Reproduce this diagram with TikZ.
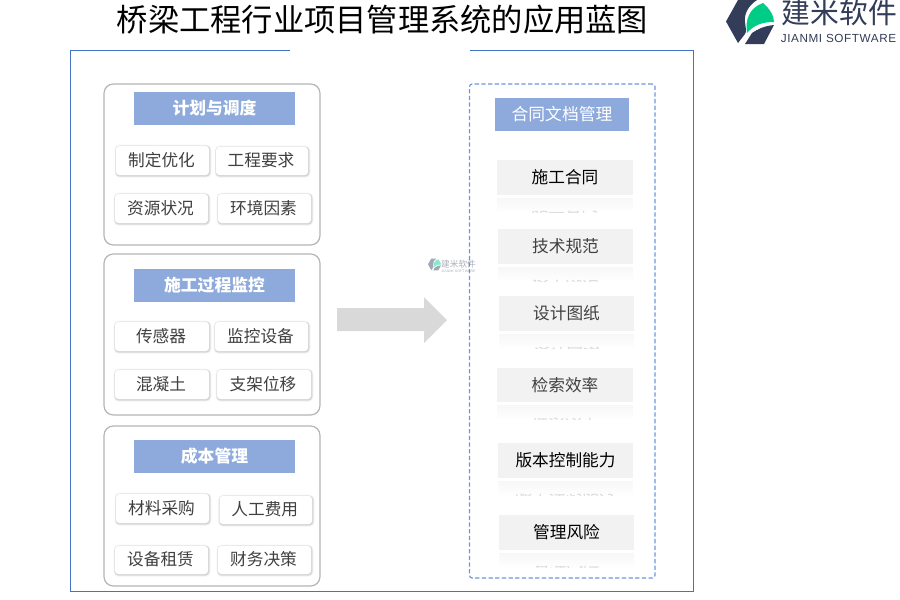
\documentclass[tikz,border=0pt]{standalone}
\usepackage{fontspec}
\setmainfont{Noto Sans CJK SC}
\newfontfamily\latinfont[LetterSpace=5]{Liberation Sans}
\usetikzlibrary{fadings}
\definecolor{frameblue}{HTML}{4472C4}
\definecolor{headblue}{HTML}{8EA9DB}
\definecolor{dashblue}{HTML}{7096E0}
\definecolor{groupgray}{HTML}{B5B5B5}
\definecolor{itemgray}{HTML}{F2F2F2}
\definecolor{inktext}{HTML}{404040}
\definecolor{logodark}{HTML}{333D5A}
\definecolor{logogreen}{HTML}{00CC88}
\definecolor{arrowgray}{HTML}{D9D9D9}
\tikzfading[name=fadedown,top color=transparent!0,bottom color=transparent!100]
\tikzset{
  x=0.75pt,y=-0.75pt,
  groupbox/.style={draw=groupgray,line width=0.9pt,rounded corners=7pt,fill=white},
  headbox/.style={fill=headblue,text=white,font=\fontsize{12.6}{14}\selectfont\bfseries,inner sep=0pt},
  chipbox/.style={fill=white,rounded corners=2.5pt,text=inktext,font=\fontsize{12.5}{14}\selectfont,inner sep=0pt},
  itembox/.style={fill=itemgray,font=\fontsize{12.5}{14}\selectfont,inner sep=0pt},
}
\newcommand{\logomark}{%
  \fill[logodark] (726,21.5) -- (738,0) -- (757,0) .. controls (748,6) and (744,14) .. (745,22) .. controls (745.5,28) and (747,31) .. (745,34) -- (738,43) -- cycle;
  \fill[logodark] (745,44) -- (752,33) .. controls (758,29) and (764,26) .. (774,25) -- (764,44) -- cycle;
  \fill[logogreen] (747,33) .. controls (745,20) and (749,8) .. (763,3) .. controls (770,9) and (774,16) .. (774,22) .. controls (762,22) and (754,25) .. (747,33) -- cycle;
}
\newcommand{\chip}[6]{% name, x1, y1, x2, y2, text
  \foreach \g/\o in {3pt/0.06,2pt/0.10,1.1pt/0.16}{
    \draw[black!55,opacity=\o,line width=\g,rounded corners=2.5pt] (#2+0.5,#3+0.7) rectangle (#4+0.5,#5+0.7);
  }
  \node[chipbox,minimum width=(#4-#2)*0.75pt,minimum height=(#5-#3)*0.75pt] (#1) at ({(#2+#4)/2},{(#3+#5)/2}) {};
  \node[text=inktext,font=\fontsize{12.5}{14}\selectfont,inner sep=0pt] (#1t) at ({(#2+#4)/2-1},{(#3+#5)/2-0.5}) {#6};
}
\newcommand{\head}[6]{% name, x1, y1, x2, y2, text
  \node[headbox,minimum width=(#4-#2)*0.75pt,minimum height=(#5-#3)*0.75pt] (#1) at ({(#2+#4)/2},{(#3+#5)/2}) {#6};
}
\newcommand{\docitem}[7]{% name, x1, y1, x2, y2, colour, text
  \node[itembox,text=#6,minimum width=(#4-#2)*0.75pt,minimum height=(#5-#3)*0.75pt] (#1) at ({(#2+#4)/2},{(#3+#5)/2}) {\raisebox{1pt}{#7}};
  \begin{scope}
    \clip (#2,#5+2.5) rectangle (#4,#5+17);
    \fill[itemgray,fill opacity=0.6,path fading=fadedown] (#2,#5+2.5) rectangle (#4,#5+17);
    \node[text=black!14,font=\fontsize{12.5}{14}\selectfont,yscale=-1,inner sep=0pt] (#1m) at ({(#2+#4)/2},{#5+24}) {#7};
  \end{scope}
}
\begin{document}
\begin{tikzpicture}
\useasboundingbox (0,0) rectangle (900,600);
\fill[white] (0,0) rectangle (900,600);
% title
\node[font=\fontsize{23.45}{28}\selectfont,text=black,inner sep=0pt] (title) at (382.5,20) {桥梁工程行业项目管理系统的应用蓝图};
% outer frame
\coordinate (fa) at (290,50.5);
\coordinate (fb) at (470,50.5);
\draw[frameblue,line width=0.75pt] (fa) -- (70.5,50.5) -- (70.5,591.5) -- (693.5,591.5) -- (693.5,50.5) -- (fb);
% left groups
\node[groupbox,minimum width=216*0.75pt,minimum height=161*0.75pt] (g1) at (212,164.5) {};
\node[groupbox,minimum width=216*0.75pt,minimum height=161*0.75pt] (g2) at (212,334.5) {};
\node[groupbox,minimum width=216*0.75pt,minimum height=160*0.75pt] (g3) at (212,506) {};
\head{h1}{134}{92}{295}{125}{计划与调度}
\head{h2}{134}{269}{295}{302}{施工过程监控}
\head{h3}{134}{440}{295}{473}{成本管理}
\chip{c1}{116}{146}{209}{175}{制定优化}
\chip{c2}{216}{147}{308}{175}{工程要求}
\chip{c3}{115}{194}{208}{223}{资源状况}
\chip{c4}{218}{194}{311}{223}{环境因素}
\chip{c5}{115}{322}{209}{351}{传感器}
\chip{c6}{215}{322}{308}{351}{监控设备}
\chip{c7}{115}{370}{209}{399}{混凝土}
\chip{c8}{217}{370}{311}{399}{支架位移}
\chip{c9}{116}{494}{209}{523}{材料采购}
\chip{c10}{219.5}{496}{312}{524}{人工费用}
\chip{c11}{115}{546}{208}{574}{设备租赁}
\chip{c12}{218}{546}{311}{574}{财务决策}
% arrow
\fill[arrowgray] (337,308) -- (424,308) -- (424,297) -- (447,320) -- (424,343) -- (424,331) -- (337,331) -- cycle;
% right panel
\node[draw=dashblue,dash pattern=on 3.2pt off 1.8pt,line width=0.9pt,rounded corners=2pt,minimum width=185.5*0.75pt,minimum height=494*0.75pt,inner sep=0pt] (panel) at (562.25,331) {};
\head{h4}{495}{98}{629}{131}{\mdseries 合同文档管理}
\docitem{i1}{497}{160}{633}{195}{black}{施工合同}
\docitem{i2}{498}{229}{633}{264}{inktext}{技术规范}
\docitem{i3}{499}{296}{634}{331}{inktext}{设计图纸}
\docitem{i4}{497}{368}{633}{402}{inktext}{检索效率}
\docitem{i5}{498}{443}{633}{478}{black}{版本控制能力}
\docitem{i6}{499}{515}{634}{550}{black}{管理风险}
% logo
\logomark
\node[font=\fontsize{21.6}{24}\selectfont,text=logodark,inner sep=0pt] (brand) at (839.5,13) {建米软件};
\node[font=\latinfont\fontsize{8.8}{10}\selectfont,text=logodark,inner sep=0pt] (brandlat) at (838.5,38) {JIANMI SOFTWARE};
% watermark
\begin{scope}[opacity=0.45,shift={(428,258.5)},scale=0.27,shift={(-726,0)}]
\logomark
\end{scope}
\node[font=\fontsize{6.5}{8}\selectfont,text=logodark,opacity=0.4,inner sep=0pt] (wm) at (458.5,264) {建米软件};
\node[font=\latinfont\fontsize{2.6}{3}\selectfont,text=logodark,opacity=0.4,inner sep=0pt] (wmlat) at (458.5,271) {JIANMI SOFTWARE};
\end{tikzpicture}
\end{document}
